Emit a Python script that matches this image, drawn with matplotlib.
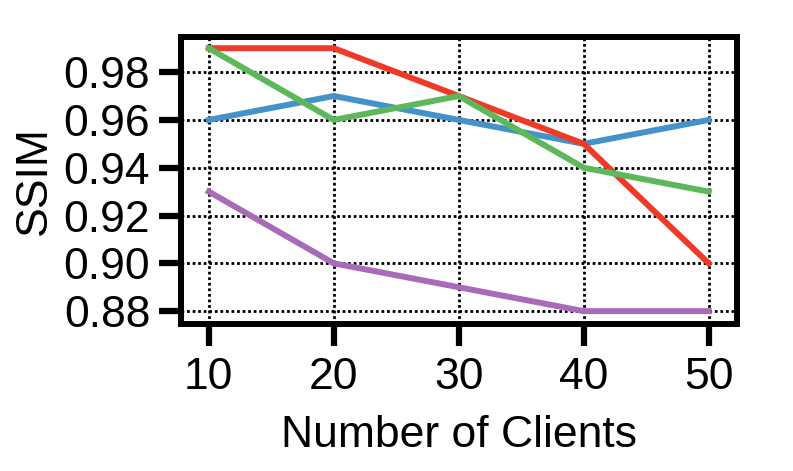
import matplotlib
matplotlib.use("Agg")
import matplotlib.pyplot as plt

plt.rcParams['font.family'] = ['Liberation Sans', 'DejaVu Sans']

clients = [10, 20, 30, 40, 50]
purple_vals = [0.93, 0.90, 0.89, 0.88, 0.88]
blue_vals = [0.96, 0.97, 0.96, 0.95, 0.96]
red_vals = [0.99, 0.99, 0.97, 0.95, 0.90]
green_vals = [0.99, 0.96, 0.97, 0.94, 0.93]
yticks = [0.88, 0.90, 0.92, 0.94, 0.96, 0.98]

fig = plt.figure(figsize=(7.93, 4.71), dpi=100)
ax = fig.add_axes([0.228, 0.312, 0.701, 0.609])

lw = 4.3
ax.plot(clients, purple_vals, color='#a86bb8', lw=lw, zorder=3)
ax.plot(clients, blue_vals, color='#4392c9', lw=lw, zorder=4)
ax.plot(clients, red_vals, color='#ee3a26', lw=lw, zorder=5)
ax.plot(clients, green_vals, color='#5cb85b', lw=lw, zorder=6)

ax.set_xlim(7.76, 52.24)
ax.set_ylim(0.8746, 0.9946)
ax.set_xticks(clients)
ax.set_yticks(yticks)
ax.set_yticklabels([f"{v:.2f}" for v in yticks])
ax.grid(True, color='black', linestyle=(0, (1, 1)), linewidth=2.0)
ax.set_axisbelow(True)
for s in ax.spines.values():
    s.set_linewidth(4.3)
ax.tick_params(labelsize=32, width=4.5, length=16, direction='out', pad=6)
ax.tick_params(axis='x', pad=8)
ax.set_xlabel('Number of Clients', fontsize=32, labelpad=12)
ax.set_ylabel('SSIM', fontsize=32, labelpad=6)

fig.savefig('out.png', dpi=100)
